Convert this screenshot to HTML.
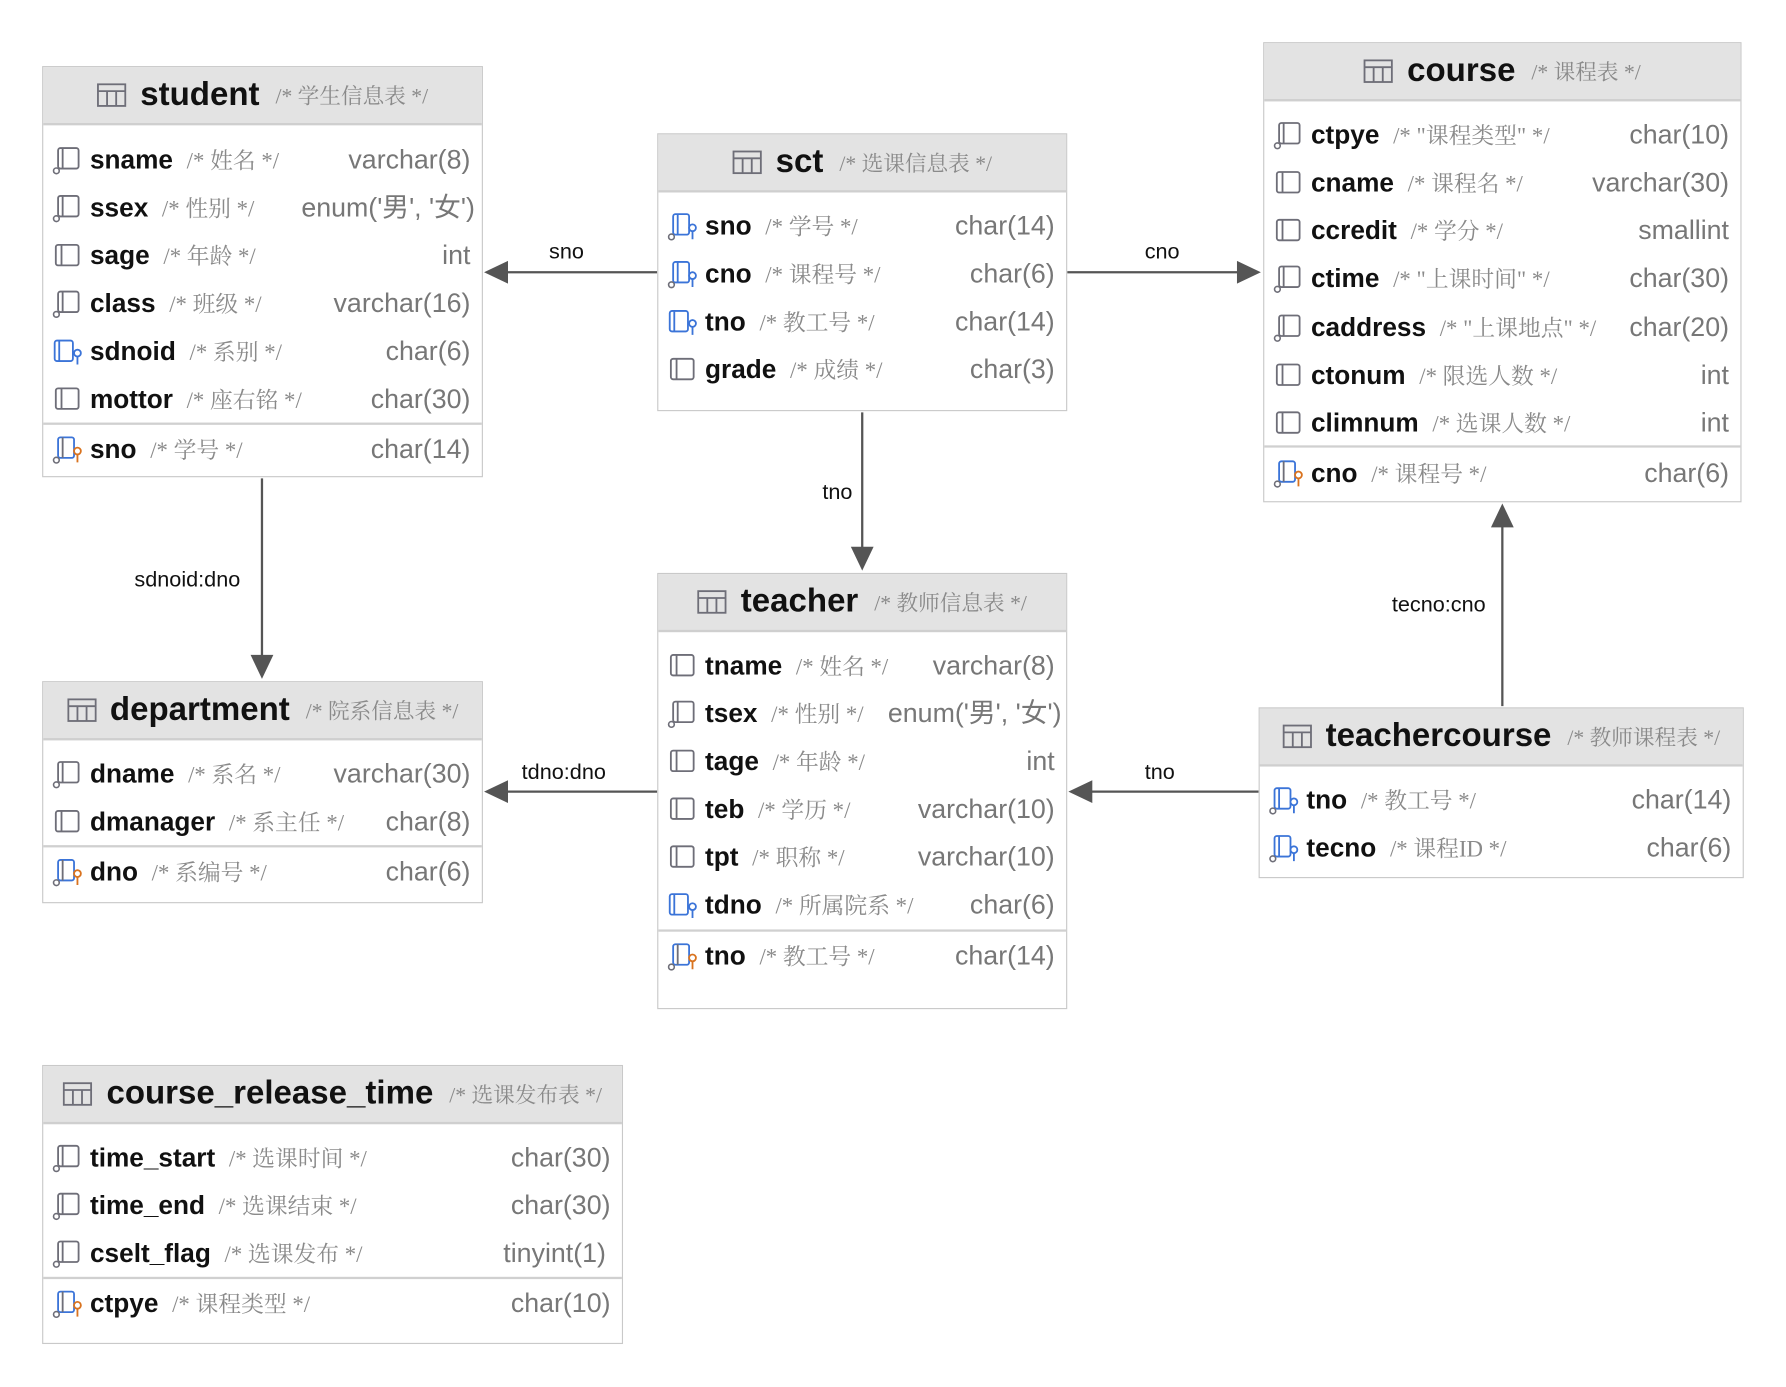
<!DOCTYPE html>
<html><head><meta charset="utf-8">
<style>
html,body{margin:0;padding:0;background:#fff;width:1786px;height:1386px;overflow:hidden}
#w{position:absolute;left:0;top:0;width:1570px;height:1218px;transform:scale(1.139,1.139);transform-origin:0 0}
.t{position:absolute;border:1px solid #c9c9c9;background:#fff;box-sizing:border-box}
.h{position:absolute;left:0;right:0;top:0;background:#e3e3e3;border-bottom:2px solid #cfcfcf;display:flex;align-items:center;justify-content:center;box-sizing:border-box}
.h b{font:bold 29px "Liberation Sans",sans-serif;color:#111;margin-left:12px;margin-right:14px}
.cm{font:19px "Liberation Serif","Noto Serif CJK SC",serif;color:#8a8a8a}
.r{position:absolute;left:0;right:0;height:30px;line-height:30px;white-space:nowrap}
.r svg{position:absolute;left:8px;top:3px}
.r .n{position:absolute;left:41px;top:0;font:bold 23px "Liberation Sans",sans-serif;line-height:30px;color:#111}
.r .n .cm{font-weight:normal;margin-left:12px;font-size:20px;line-height:30px}
.r .ty{position:absolute;right:10px;top:0;font:23.5px "Liberation Sans","Noto Sans CJK SC",sans-serif;line-height:30px;color:#777}
.sep{position:absolute;left:0;right:0;height:2px;background:#d0d0d0}
.lb{position:absolute;font:19px "Liberation Sans",sans-serif;color:#111;white-space:nowrap}
</style></head><body><div id="w">
<svg style="position:absolute;left:0;top:0" width="1560" height="1211">
<g stroke="#555" stroke-width="2" fill="#555">
<line x1="577" y1="239" x2="440" y2="239"/><polygon points="425,239 446,229 446,249" stroke="none"/>
<line x1="936" y1="239" x2="1090" y2="239"/><polygon points="1107,239 1086,229 1086,249" stroke="none"/>
<line x1="757" y1="362" x2="757" y2="485"/><polygon points="757,501 747,480 767,480" stroke="none"/>
<line x1="230" y1="420" x2="230" y2="580"/><polygon points="230,596 220,575 240,575" stroke="none"/>
<line x1="577" y1="695" x2="440" y2="695"/><polygon points="425,695 446,685 446,705" stroke="none"/>
<line x1="1105" y1="695" x2="955" y2="695"/><polygon points="938,695 959,685 959,705" stroke="none"/>
<line x1="1319" y1="620" x2="1319" y2="458"/><polygon points="1319,442 1309,463 1329,463" stroke="none"/>
</g></svg>
<div class="lb" style="left:482px;top:211px">sno</div>
<div class="lb" style="left:1005px;top:211px">cno</div>
<div class="lb" style="left:722px;top:422px">tno</div>
<div class="lb" style="left:118px;top:499px">sdnoid:dno</div>
<div class="lb" style="left:458px;top:668px">tdno:dno</div>
<div class="lb" style="left:1005px;top:668px">tno</div>
<div class="lb" style="left:1222px;top:521px">tecno:cno</div>

<!-- student -->
<div class="t" style="left:37px;top:58px;width:387px;height:361px">
<div class="h" style="height:51px"><svg width="26" height="22"><rect x="1" y="1" width="24" height="19" fill="none" stroke="#6e6e78" stroke-width="1.6"/><line x1="1" y1="7" x2="25" y2="7" stroke="#6e6e78" stroke-width="1.6"/><line x1="9" y1="7" x2="9" y2="20" stroke="#6e6e78" stroke-width="1.6"/><line x1="17" y1="7" x2="17" y2="20" stroke="#6e6e78" stroke-width="1.6"/></svg><b>student</b><span class="cm">/* 学生信息表 */</span></div>
<div class="r" style="top:66px"><svg width="26" height="26"><rect x="5" y="2" width="18" height="18" rx="2" fill="none" stroke="#6e6e78" stroke-width="1.6"/><line x1="9" y1="2" x2="9" y2="20" stroke="#6e6e78" stroke-width="1.6"/><circle cx="3.5" cy="22" r="2.5" fill="#fff" stroke="#6e6e78" stroke-width="1.4"/></svg><span class="n">sname<span class="cm">/* 姓名 */</span></span><span class="ty">varchar(8)</span></div>
<div class="r" style="top:108px"><svg width="26" height="26"><rect x="5" y="2" width="18" height="18" rx="2" fill="none" stroke="#6e6e78" stroke-width="1.6"/><line x1="9" y1="2" x2="9" y2="20" stroke="#6e6e78" stroke-width="1.6"/><circle cx="3.5" cy="22" r="2.5" fill="#fff" stroke="#6e6e78" stroke-width="1.4"/></svg><span class="n">ssex<span class="cm">/* 性别 */</span></span><span class="ty" style="right:6px">enum('男', '女')</span></div>
<div class="r" style="top:150px"><svg width="26" height="26"><rect x="3" y="3" width="20" height="18" rx="2" fill="none" stroke="#6e6e78" stroke-width="1.6"/><line x1="8" y1="3" x2="8" y2="21" stroke="#6e6e78" stroke-width="1.6"/></svg><span class="n">sage<span class="cm">/* 年龄 */</span></span><span class="ty">int</span></div>
<div class="r" style="top:192px"><svg width="26" height="26"><rect x="5" y="2" width="18" height="18" rx="2" fill="none" stroke="#6e6e78" stroke-width="1.6"/><line x1="9" y1="2" x2="9" y2="20" stroke="#6e6e78" stroke-width="1.6"/><circle cx="3.5" cy="22" r="2.5" fill="#fff" stroke="#6e6e78" stroke-width="1.4"/></svg><span class="n">class<span class="cm">/* 班级 */</span></span><span class="ty">varchar(16)</span></div>
<div class="r" style="top:234px"><svg width="30" height="26"><rect x="2" y="3" width="16" height="18" rx="2" fill="none" stroke="#3b74d8" stroke-width="1.6"/><line x1="6" y1="3" x2="6" y2="21" stroke="#3b74d8" stroke-width="1.6"/><circle cx="22" cy="14" r="3" fill="#fff" stroke="#3b74d8" stroke-width="1.6"/><line x1="22" y1="17" x2="22" y2="24" stroke="#3b74d8" stroke-width="1.6"/></svg><span class="n">sdnoid<span class="cm">/* 系别 */</span></span><span class="ty">char(6)</span></div>
<div class="r" style="top:276px"><svg width="26" height="26"><rect x="3" y="3" width="20" height="18" rx="2" fill="none" stroke="#6e6e78" stroke-width="1.6"/><line x1="8" y1="3" x2="8" y2="21" stroke="#6e6e78" stroke-width="1.6"/></svg><span class="n">mottor<span class="cm">/* 座右铭 */</span></span><span class="ty">char(30)</span></div>
<div class="sep" style="top:312px"></div>
<div class="r" style="top:320px"><svg width="30" height="26"><rect x="5" y="2" width="14" height="18" rx="2" fill="none" stroke="#3b74d8" stroke-width="1.6"/><line x1="9" y1="2" x2="9" y2="20" stroke="#6e6e78" stroke-width="1.6"/><circle cx="3.5" cy="22" r="2.5" fill="#fff" stroke="#6e6e78" stroke-width="1.4"/><circle cx="22" cy="14" r="3" fill="#fff" stroke="#d9731f" stroke-width="1.6"/><line x1="22" y1="17" x2="22" y2="24" stroke="#d9731f" stroke-width="1.6"/></svg><span class="n">sno<span class="cm">/* 学号 */</span></span><span class="ty">char(14)</span></div>
</div>

<!-- sct -->
<div class="t" style="left:577px;top:117px;width:360px;height:244px">
<div class="h" style="height:51px"><svg width="26" height="22"><rect x="1" y="1" width="24" height="19" fill="none" stroke="#6e6e78" stroke-width="1.6"/><line x1="1" y1="7" x2="25" y2="7" stroke="#6e6e78" stroke-width="1.6"/><line x1="9" y1="7" x2="9" y2="20" stroke="#6e6e78" stroke-width="1.6"/><line x1="17" y1="7" x2="17" y2="20" stroke="#6e6e78" stroke-width="1.6"/></svg><b>sct</b><span class="cm">/* 选课信息表 */</span></div>
<div class="r" style="top:65px"><svg width="30" height="26"><rect x="5" y="2" width="14" height="18" rx="2" fill="none" stroke="#3b74d8" stroke-width="1.6"/><line x1="9" y1="2" x2="9" y2="20" stroke="#3b74d8" stroke-width="1.6"/><circle cx="3.5" cy="22" r="2.5" fill="#fff" stroke="#6e6e78" stroke-width="1.4"/><circle cx="22" cy="14" r="3" fill="#fff" stroke="#3b74d8" stroke-width="1.6"/><line x1="22" y1="17" x2="22" y2="24" stroke="#3b74d8" stroke-width="1.6"/></svg><span class="n">sno<span class="cm">/* 学号 */</span></span><span class="ty">char(14)</span></div>
<div class="r" style="top:107px"><svg width="30" height="26"><rect x="5" y="2" width="14" height="18" rx="2" fill="none" stroke="#3b74d8" stroke-width="1.6"/><line x1="9" y1="2" x2="9" y2="20" stroke="#3b74d8" stroke-width="1.6"/><circle cx="3.5" cy="22" r="2.5" fill="#fff" stroke="#6e6e78" stroke-width="1.4"/><circle cx="22" cy="14" r="3" fill="#fff" stroke="#3b74d8" stroke-width="1.6"/><line x1="22" y1="17" x2="22" y2="24" stroke="#3b74d8" stroke-width="1.6"/></svg><span class="n">cno<span class="cm">/* 课程号 */</span></span><span class="ty">char(6)</span></div>
<div class="r" style="top:149px"><svg width="30" height="26"><rect x="2" y="3" width="16" height="18" rx="2" fill="none" stroke="#3b74d8" stroke-width="1.6"/><line x1="6" y1="3" x2="6" y2="21" stroke="#3b74d8" stroke-width="1.6"/><circle cx="22" cy="14" r="3" fill="#fff" stroke="#3b74d8" stroke-width="1.6"/><line x1="22" y1="17" x2="22" y2="24" stroke="#3b74d8" stroke-width="1.6"/></svg><span class="n">tno<span class="cm">/* 教工号 */</span></span><span class="ty">char(14)</span></div>
<div class="r" style="top:191px"><svg width="26" height="26"><rect x="3" y="3" width="20" height="18" rx="2" fill="none" stroke="#6e6e78" stroke-width="1.6"/><line x1="8" y1="3" x2="8" y2="21" stroke="#6e6e78" stroke-width="1.6"/></svg><span class="n">grade<span class="cm">/* 成绩 */</span></span><span class="ty">char(3)</span></div>
</div>

<!-- course -->
<div class="t" style="left:1109px;top:37px;width:420px;height:404px">
<div class="h" style="height:51px"><svg width="26" height="22"><rect x="1" y="1" width="24" height="19" fill="none" stroke="#6e6e78" stroke-width="1.6"/><line x1="1" y1="7" x2="25" y2="7" stroke="#6e6e78" stroke-width="1.6"/><line x1="9" y1="7" x2="9" y2="20" stroke="#6e6e78" stroke-width="1.6"/><line x1="17" y1="7" x2="17" y2="20" stroke="#6e6e78" stroke-width="1.6"/></svg><b>course</b><span class="cm">/* 课程表 */</span></div>
<div class="r" style="top:65px"><svg width="26" height="26"><rect x="5" y="2" width="18" height="18" rx="2" fill="none" stroke="#6e6e78" stroke-width="1.6"/><line x1="9" y1="2" x2="9" y2="20" stroke="#6e6e78" stroke-width="1.6"/><circle cx="3.5" cy="22" r="2.5" fill="#fff" stroke="#6e6e78" stroke-width="1.4"/></svg><span class="n">ctpye<span class="cm">/* "课程类型" */</span></span><span class="ty">char(10)</span></div>
<div class="r" style="top:107px"><svg width="26" height="26"><rect x="3" y="3" width="20" height="18" rx="2" fill="none" stroke="#6e6e78" stroke-width="1.6"/><line x1="8" y1="3" x2="8" y2="21" stroke="#6e6e78" stroke-width="1.6"/></svg><span class="n">cname<span class="cm">/* 课程名 */</span></span><span class="ty">varchar(30)</span></div>
<div class="r" style="top:149px"><svg width="26" height="26"><rect x="3" y="3" width="20" height="18" rx="2" fill="none" stroke="#6e6e78" stroke-width="1.6"/><line x1="8" y1="3" x2="8" y2="21" stroke="#6e6e78" stroke-width="1.6"/></svg><span class="n">ccredit<span class="cm">/* 学分 */</span></span><span class="ty">smallint</span></div>
<div class="r" style="top:191px"><svg width="26" height="26"><rect x="5" y="2" width="18" height="18" rx="2" fill="none" stroke="#6e6e78" stroke-width="1.6"/><line x1="9" y1="2" x2="9" y2="20" stroke="#6e6e78" stroke-width="1.6"/><circle cx="3.5" cy="22" r="2.5" fill="#fff" stroke="#6e6e78" stroke-width="1.4"/></svg><span class="n">ctime<span class="cm">/* "上课时间" */</span></span><span class="ty">char(30)</span></div>
<div class="r" style="top:234px"><svg width="26" height="26"><rect x="5" y="2" width="18" height="18" rx="2" fill="none" stroke="#6e6e78" stroke-width="1.6"/><line x1="9" y1="2" x2="9" y2="20" stroke="#6e6e78" stroke-width="1.6"/><circle cx="3.5" cy="22" r="2.5" fill="#fff" stroke="#6e6e78" stroke-width="1.4"/></svg><span class="n">caddress<span class="cm">/* "上课地点" */</span></span><span class="ty">char(20)</span></div>
<div class="r" style="top:276px"><svg width="26" height="26"><rect x="3" y="3" width="20" height="18" rx="2" fill="none" stroke="#6e6e78" stroke-width="1.6"/><line x1="8" y1="3" x2="8" y2="21" stroke="#6e6e78" stroke-width="1.6"/></svg><span class="n">ctonum<span class="cm">/* 限选人数 */</span></span><span class="ty">int</span></div>
<div class="r" style="top:318px"><svg width="26" height="26"><rect x="3" y="3" width="20" height="18" rx="2" fill="none" stroke="#6e6e78" stroke-width="1.6"/><line x1="8" y1="3" x2="8" y2="21" stroke="#6e6e78" stroke-width="1.6"/></svg><span class="n">climnum<span class="cm">/* 选课人数 */</span></span><span class="ty">int</span></div>
<div class="sep" style="top:353px"></div>
<div class="r" style="top:362px"><svg width="30" height="26"><rect x="5" y="2" width="14" height="18" rx="2" fill="none" stroke="#3b74d8" stroke-width="1.6"/><line x1="9" y1="2" x2="9" y2="20" stroke="#6e6e78" stroke-width="1.6"/><circle cx="3.5" cy="22" r="2.5" fill="#fff" stroke="#6e6e78" stroke-width="1.4"/><circle cx="22" cy="14" r="3" fill="#fff" stroke="#d9731f" stroke-width="1.6"/><line x1="22" y1="17" x2="22" y2="24" stroke="#d9731f" stroke-width="1.6"/></svg><span class="n">cno<span class="cm">/* 课程号 */</span></span><span class="ty">char(6)</span></div>
</div>

<!-- teacher -->
<div class="t" style="left:577px;top:503px;width:360px;height:383px">
<div class="h" style="height:51px"><svg width="26" height="22"><rect x="1" y="1" width="24" height="19" fill="none" stroke="#6e6e78" stroke-width="1.6"/><line x1="1" y1="7" x2="25" y2="7" stroke="#6e6e78" stroke-width="1.6"/><line x1="9" y1="7" x2="9" y2="20" stroke="#6e6e78" stroke-width="1.6"/><line x1="17" y1="7" x2="17" y2="20" stroke="#6e6e78" stroke-width="1.6"/></svg><b>teacher</b><span class="cm">/* 教师信息表 */</span></div>
<div class="r" style="top:65px"><svg width="26" height="26"><rect x="3" y="3" width="20" height="18" rx="2" fill="none" stroke="#6e6e78" stroke-width="1.6"/><line x1="8" y1="3" x2="8" y2="21" stroke="#6e6e78" stroke-width="1.6"/></svg><span class="n">tname<span class="cm">/* 姓名 */</span></span><span class="ty">varchar(8)</span></div>
<div class="r" style="top:107px"><svg width="26" height="26"><rect x="5" y="2" width="18" height="18" rx="2" fill="none" stroke="#6e6e78" stroke-width="1.6"/><line x1="9" y1="2" x2="9" y2="20" stroke="#6e6e78" stroke-width="1.6"/><circle cx="3.5" cy="22" r="2.5" fill="#fff" stroke="#6e6e78" stroke-width="1.4"/></svg><span class="n">tsex<span class="cm">/* 性别 */</span></span><span class="ty" style="right:4px">enum('男', '女')</span></div>
<div class="r" style="top:149px"><svg width="26" height="26"><rect x="3" y="3" width="20" height="18" rx="2" fill="none" stroke="#6e6e78" stroke-width="1.6"/><line x1="8" y1="3" x2="8" y2="21" stroke="#6e6e78" stroke-width="1.6"/></svg><span class="n">tage<span class="cm">/* 年龄 */</span></span><span class="ty">int</span></div>
<div class="r" style="top:191px"><svg width="26" height="26"><rect x="3" y="3" width="20" height="18" rx="2" fill="none" stroke="#6e6e78" stroke-width="1.6"/><line x1="8" y1="3" x2="8" y2="21" stroke="#6e6e78" stroke-width="1.6"/></svg><span class="n">teb<span class="cm">/* 学历 */</span></span><span class="ty">varchar(10)</span></div>
<div class="r" style="top:233px"><svg width="26" height="26"><rect x="3" y="3" width="20" height="18" rx="2" fill="none" stroke="#6e6e78" stroke-width="1.6"/><line x1="8" y1="3" x2="8" y2="21" stroke="#6e6e78" stroke-width="1.6"/></svg><span class="n">tpt<span class="cm">/* 职称 */</span></span><span class="ty">varchar(10)</span></div>
<div class="r" style="top:275px"><svg width="30" height="26"><rect x="2" y="3" width="16" height="18" rx="2" fill="none" stroke="#3b74d8" stroke-width="1.6"/><line x1="6" y1="3" x2="6" y2="21" stroke="#3b74d8" stroke-width="1.6"/><circle cx="22" cy="14" r="3" fill="#fff" stroke="#3b74d8" stroke-width="1.6"/><line x1="22" y1="17" x2="22" y2="24" stroke="#3b74d8" stroke-width="1.6"/></svg><span class="n">tdno<span class="cm">/* 所属院系 */</span></span><span class="ty">char(6)</span></div>
<div class="sep" style="top:312px"></div>
<div class="r" style="top:320px"><svg width="30" height="26"><rect x="5" y="2" width="14" height="18" rx="2" fill="none" stroke="#3b74d8" stroke-width="1.6"/><line x1="9" y1="2" x2="9" y2="20" stroke="#6e6e78" stroke-width="1.6"/><circle cx="3.5" cy="22" r="2.5" fill="#fff" stroke="#6e6e78" stroke-width="1.4"/><circle cx="22" cy="14" r="3" fill="#fff" stroke="#d9731f" stroke-width="1.6"/><line x1="22" y1="17" x2="22" y2="24" stroke="#d9731f" stroke-width="1.6"/></svg><span class="n">tno<span class="cm">/* 教工号 */</span></span><span class="ty">char(14)</span></div>
</div>

<!-- department -->
<div class="t" style="left:37px;top:598px;width:387px;height:195px">
<div class="h" style="height:51px"><svg width="26" height="22"><rect x="1" y="1" width="24" height="19" fill="none" stroke="#6e6e78" stroke-width="1.6"/><line x1="1" y1="7" x2="25" y2="7" stroke="#6e6e78" stroke-width="1.6"/><line x1="9" y1="7" x2="9" y2="20" stroke="#6e6e78" stroke-width="1.6"/><line x1="17" y1="7" x2="17" y2="20" stroke="#6e6e78" stroke-width="1.6"/></svg><b>department</b><span class="cm">/* 院系信息表 */</span></div>
<div class="r" style="top:65px"><svg width="26" height="26"><rect x="5" y="2" width="18" height="18" rx="2" fill="none" stroke="#6e6e78" stroke-width="1.6"/><line x1="9" y1="2" x2="9" y2="20" stroke="#6e6e78" stroke-width="1.6"/><circle cx="3.5" cy="22" r="2.5" fill="#fff" stroke="#6e6e78" stroke-width="1.4"/></svg><span class="n">dname<span class="cm">/* 系名 */</span></span><span class="ty">varchar(30)</span></div>
<div class="r" style="top:107px"><svg width="26" height="26"><rect x="3" y="3" width="20" height="18" rx="2" fill="none" stroke="#6e6e78" stroke-width="1.6"/><line x1="8" y1="3" x2="8" y2="21" stroke="#6e6e78" stroke-width="1.6"/></svg><span class="n">dmanager<span class="cm">/* 系主任 */</span></span><span class="ty">char(8)</span></div>
<div class="sep" style="top:143px"></div>
<div class="r" style="top:151px"><svg width="30" height="26"><rect x="5" y="2" width="14" height="18" rx="2" fill="none" stroke="#3b74d8" stroke-width="1.6"/><line x1="9" y1="2" x2="9" y2="20" stroke="#6e6e78" stroke-width="1.6"/><circle cx="3.5" cy="22" r="2.5" fill="#fff" stroke="#6e6e78" stroke-width="1.4"/><circle cx="22" cy="14" r="3" fill="#fff" stroke="#d9731f" stroke-width="1.6"/><line x1="22" y1="17" x2="22" y2="24" stroke="#d9731f" stroke-width="1.6"/></svg><span class="n">dno<span class="cm">/* 系编号 */</span></span><span class="ty">char(6)</span></div>
</div>

<!-- teachercourse -->
<div class="t" style="left:1105px;top:621px;width:426px;height:150px">
<div class="h" style="height:51px"><svg width="26" height="22"><rect x="1" y="1" width="24" height="19" fill="none" stroke="#6e6e78" stroke-width="1.6"/><line x1="1" y1="7" x2="25" y2="7" stroke="#6e6e78" stroke-width="1.6"/><line x1="9" y1="7" x2="9" y2="20" stroke="#6e6e78" stroke-width="1.6"/><line x1="17" y1="7" x2="17" y2="20" stroke="#6e6e78" stroke-width="1.6"/></svg><b>teachercourse</b><span class="cm">/* 教师课程表 */</span></div>
<div class="r" style="top:65px"><svg width="30" height="26"><rect x="5" y="2" width="14" height="18" rx="2" fill="none" stroke="#3b74d8" stroke-width="1.6"/><line x1="9" y1="2" x2="9" y2="20" stroke="#3b74d8" stroke-width="1.6"/><circle cx="3.5" cy="22" r="2.5" fill="#fff" stroke="#6e6e78" stroke-width="1.4"/><circle cx="22" cy="14" r="3" fill="#fff" stroke="#3b74d8" stroke-width="1.6"/><line x1="22" y1="17" x2="22" y2="24" stroke="#3b74d8" stroke-width="1.6"/></svg><span class="n">tno<span class="cm">/* 教工号 */</span></span><span class="ty">char(14)</span></div>
<div class="r" style="top:107px"><svg width="30" height="26"><rect x="5" y="2" width="14" height="18" rx="2" fill="none" stroke="#3b74d8" stroke-width="1.6"/><line x1="9" y1="2" x2="9" y2="20" stroke="#3b74d8" stroke-width="1.6"/><circle cx="3.5" cy="22" r="2.5" fill="#fff" stroke="#6e6e78" stroke-width="1.4"/><circle cx="22" cy="14" r="3" fill="#fff" stroke="#3b74d8" stroke-width="1.6"/><line x1="22" y1="17" x2="22" y2="24" stroke="#3b74d8" stroke-width="1.6"/></svg><span class="n">tecno<span class="cm">/* 课程ID */</span></span><span class="ty">char(6)</span></div>
</div>

<!-- course_release_time -->
<div class="t" style="left:37px;top:935px;width:510px;height:245px">
<div class="h" style="height:51px"><svg width="26" height="22"><rect x="1" y="1" width="24" height="19" fill="none" stroke="#6e6e78" stroke-width="1.6"/><line x1="1" y1="7" x2="25" y2="7" stroke="#6e6e78" stroke-width="1.6"/><line x1="9" y1="7" x2="9" y2="20" stroke="#6e6e78" stroke-width="1.6"/><line x1="17" y1="7" x2="17" y2="20" stroke="#6e6e78" stroke-width="1.6"/></svg><b>course_release_time</b><span class="cm">/* 选课发布表 */</span></div>
<div class="r" style="top:65px"><svg width="26" height="26"><rect x="5" y="2" width="18" height="18" rx="2" fill="none" stroke="#6e6e78" stroke-width="1.6"/><line x1="9" y1="2" x2="9" y2="20" stroke="#6e6e78" stroke-width="1.6"/><circle cx="3.5" cy="22" r="2.5" fill="#fff" stroke="#6e6e78" stroke-width="1.4"/></svg><span class="n">time_start<span class="cm">/* 选课时间 */</span></span><span class="ty">char(30)</span></div>
<div class="r" style="top:107px"><svg width="26" height="26"><rect x="5" y="2" width="18" height="18" rx="2" fill="none" stroke="#6e6e78" stroke-width="1.6"/><line x1="9" y1="2" x2="9" y2="20" stroke="#6e6e78" stroke-width="1.6"/><circle cx="3.5" cy="22" r="2.5" fill="#fff" stroke="#6e6e78" stroke-width="1.4"/></svg><span class="n">time_end<span class="cm">/* 选课结束 */</span></span><span class="ty">char(30)</span></div>
<div class="r" style="top:149px"><svg width="26" height="26"><rect x="5" y="2" width="18" height="18" rx="2" fill="none" stroke="#6e6e78" stroke-width="1.6"/><line x1="9" y1="2" x2="9" y2="20" stroke="#6e6e78" stroke-width="1.6"/><circle cx="3.5" cy="22" r="2.5" fill="#fff" stroke="#6e6e78" stroke-width="1.4"/></svg><span class="n">cselt_flag<span class="cm">/* 选课发布 */</span></span><span class="ty" style="right:14px">tinyint(1)</span></div>
<div class="sep" style="top:185px"></div>
<div class="r" style="top:193px"><svg width="30" height="26"><rect x="5" y="2" width="14" height="18" rx="2" fill="none" stroke="#3b74d8" stroke-width="1.6"/><line x1="9" y1="2" x2="9" y2="20" stroke="#6e6e78" stroke-width="1.6"/><circle cx="3.5" cy="22" r="2.5" fill="#fff" stroke="#6e6e78" stroke-width="1.4"/><circle cx="22" cy="14" r="3" fill="#fff" stroke="#d9731f" stroke-width="1.6"/><line x1="22" y1="17" x2="22" y2="24" stroke="#d9731f" stroke-width="1.6"/></svg><span class="n">ctpye<span class="cm">/* 课程类型 */</span></span><span class="ty">char(10)</span></div>
</div>
</div></body></html>
